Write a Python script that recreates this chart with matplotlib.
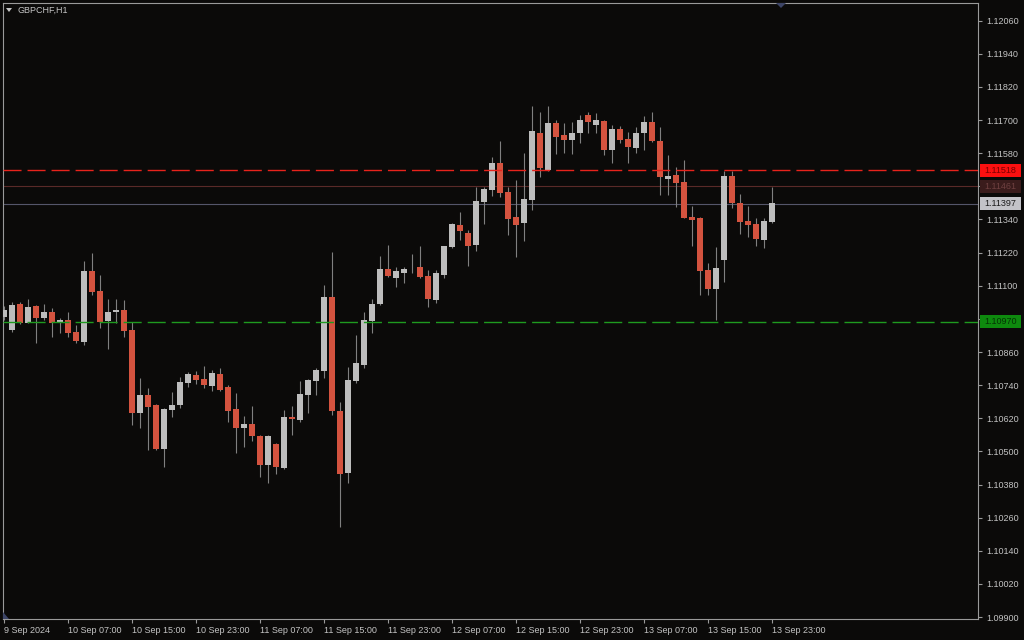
import numpy as np
import matplotlib
matplotlib.use("Agg")
import matplotlib.pyplot as plt
from matplotlib.patches import Rectangle, Polygon

# GBPCHF H1 bars, 9 Sep 23:00 .. 13 Sep 23:00
opens = [1.10987, 1.10940, 1.11034, 1.10966, 1.11027, 1.10984, 1.11005, 1.10964, 1.10976, 1.10933,
         1.10897, 1.11153, 1.11081, 1.10973, 1.11005, 1.11012, 1.10940, 1.10640, 1.10705, 1.10668,
         1.10509, 1.10650, 1.10668, 1.10749, 1.10777, 1.10762, 1.10737, 1.10781, 1.10735, 1.10654,
         1.10586, 1.10600, 1.10557, 1.10451, 1.10527, 1.10441, 1.10626, 1.10614, 1.10705, 1.10756,
         1.10792, 1.11060, 1.10648, 1.10423, 1.10756, 1.10813, 1.10973, 1.11034, 1.11161, 1.11129,
         1.11147, 1.11163, 1.11169, 1.11135, 1.11049, 1.11139, 1.11241, 1.11320, 1.11292, 1.11248,
         1.11404, 1.11447, 1.11546, 1.11440, 1.11350, 1.11328, 1.11411, 1.11652, 1.11519, 1.11691,
         1.11646, 1.11628, 1.11654, 1.11718, 1.11682, 1.11697, 1.11592, 1.11667, 1.11630, 1.11600,
         1.11652, 1.11693, 1.11624, 1.11488, 1.11501, 1.11476, 1.11350, 1.11344, 1.11157, 1.11088,
         1.11193, 1.11498, 1.11399, 1.11335, 1.11324, 1.11266, 1.11332]
highs = [1.11027, 1.11041, 1.11042, 1.11053, 1.11031, 1.11034, 1.11020, 1.10983, 1.11006, 1.10958,
         1.11191, 1.11218, 1.11139, 1.11051, 1.11052, 1.11049, 1.10970, 1.10766, 1.10730, 1.10672,
         1.10658, 1.10716, 1.10770, 1.10789, 1.10792, 1.10809, 1.10795, 1.10802, 1.10741, 1.10712,
         1.10629, 1.10665, 1.10561, 1.10558, 1.10531, 1.10650, 1.10665, 1.10756, 1.10762, 1.10801,
         1.11103, 1.11222, 1.10680, 1.10807, 1.10922, 1.11006, 1.11052, 1.11208, 1.11248, 1.11169,
         1.11169, 1.11215, 1.11244, 1.11157, 1.11157, 1.11244, 1.11326, 1.11368, 1.11302, 1.11459,
         1.11458, 1.11567, 1.11625, 1.11458, 1.11483, 1.11582, 1.11751, 1.11731, 1.11751, 1.11700,
         1.11691, 1.11694, 1.11718, 1.11730, 1.11727, 1.11700, 1.11682, 1.11679, 1.11658, 1.11674,
         1.11715, 1.11730, 1.11676, 1.11574, 1.11531, 1.11555, 1.11389, 1.11350, 1.11181, 1.11241,
         1.11517, 1.11517, 1.11432, 1.11389, 1.11344, 1.11344, 1.11459]
lows = [1.10976, 1.10933, 1.10962, 1.10965, 1.10892, 1.10976, 1.10915, 1.10929, 1.10915, 1.10892,
        1.10885, 1.11067, 1.10946, 1.10870, 1.10965, 1.10915, 1.10596, 1.10585, 1.10506, 1.10506,
        1.10444, 1.10625, 1.10657, 1.10733, 1.10744, 1.10730, 1.10720, 1.10720, 1.10608, 1.10496,
        1.10516, 1.10536, 1.10408, 1.10385, 1.10418, 1.10438, 1.10560, 1.10608, 1.10640, 1.10705,
        1.10765, 1.10632, 1.10227, 1.10385, 1.10747, 1.10801, 1.10929, 1.11031, 1.11132, 1.11096,
        1.11109, 1.11145, 1.11127, 1.11022, 1.11037, 1.11127, 1.11238, 1.11266, 1.11172, 1.11227,
        1.11324, 1.11425, 1.11423, 1.11284, 1.11203, 1.11263, 1.11374, 1.11494, 1.11517, 1.11577,
        1.11582, 1.11577, 1.11618, 1.11652, 1.11652, 1.11574, 1.11544, 1.11616, 1.11546, 1.11580,
        1.11592, 1.11622, 1.11429, 1.11429, 1.11386, 1.11344, 1.11244, 1.11067, 1.11067, 1.10976,
        1.11115, 1.11381, 1.11287, 1.11278, 1.11244, 1.11236, 1.11326]
closes = [1.11012, 1.11031, 1.10966, 1.11024, 1.10984, 1.11005, 1.10964, 1.10976, 1.10930, 1.10901,
          1.11153, 1.11078, 1.10970, 1.11005, 1.11012, 1.10937, 1.10640, 1.10705, 1.10662, 1.10509,
          1.10654, 1.10668, 1.10752, 1.10781, 1.10759, 1.10741, 1.10783, 1.10723, 1.10648, 1.10586,
          1.10600, 1.10554, 1.10451, 1.10554, 1.10445, 1.10626, 1.10617, 1.10708, 1.10759, 1.10795,
          1.11060, 1.10648, 1.10418, 1.10759, 1.10821, 1.10976, 1.11034, 1.11161, 1.11135, 1.11153,
          1.11161, 1.11164, 1.11133, 1.11052, 1.11148, 1.11244, 1.11324, 1.11299, 1.11244, 1.11408,
          1.11450, 1.11546, 1.11437, 1.11343, 1.11320, 1.11415, 1.11661, 1.11525, 1.11691, 1.11640,
          1.11628, 1.11654, 1.11700, 1.11693, 1.11700, 1.11592, 1.11667, 1.11628, 1.11604, 1.11652,
          1.11693, 1.11624, 1.11495, 1.11498, 1.11473, 1.11347, 1.11338, 1.11153, 1.11088, 1.11163,
          1.11498, 1.11399, 1.11332, 1.11320, 1.11269, 1.11335, 1.11399]

time_labels = ["9 Sep 2024", "10 Sep 07:00", "10 Sep 15:00", "10 Sep 23:00", "11 Sep 07:00",
               "11 Sep 15:00", "11 Sep 23:00", "12 Sep 07:00", "12 Sep 15:00", "12 Sep 23:00",
               "13 Sep 07:00", "13 Sep 15:00", "13 Sep 23:00"]
price_ticks = [1.09900 + 0.0012 * i for i in range(19)]

# horizontal levels
level_high = 1.11518   # red dashed
level_low = 1.10970    # green dashed
ask_price = 1.11461
bid_price = 1.11397

BG = '#0b0a09'
FG = '#c4c4c4'
BULL = '#bdbdbd'
BEAR = '#d4533f'
WICK = '#808080'

W, H = 1024, 640
fig = plt.figure(figsize=(W / 100, H / 100), dpi=100, facecolor=BG)
ax_l, ax_r, ax_t, ax_b = 3, 978, 3, 619
ax = fig.add_axes([ax_l / W, 1 - ax_b / H, (ax_r - ax_l) / W, (ax_b - ax_t) / H])
ax.set_facecolor(BG)

n = len(opens)
x = np.arange(n)
o = np.array(opens); c = np.array(closes)
hi = np.array(highs); lo = np.array(lows)
up = c >= o

ax.vlines(x, lo, hi, color=WICK, linewidth=0.8, zorder=2)
body_h = np.maximum(np.abs(c - o), 0.00003)
ax.bar(x[up], body_h[up], bottom=np.minimum(o, c)[up], width=0.8, color=BULL, linewidth=0, zorder=3)
ax.bar(x[~up], body_h[~up], bottom=np.minimum(o, c)[~up], width=0.8, color=BEAR, linewidth=0, zorder=3)

ax.axhline(level_high, color='#e8231c', linewidth=1.0, dashes=(13, 4.3), zorder=4)
ax.axhline(level_low, color='#1f9a1f', linewidth=1.0, dashes=(13, 4.3), zorder=4)
ax.axhline(ask_price, color='#5a2a28', linewidth=0.8, zorder=1)
ax.axhline(bid_price, color='#55566a', linewidth=0.8, zorder=1)

ax.set_xlim((ax_l - 3.7) / 8, (ax_r - 3.7) / 8)
ax.set_ylim(1.12135 - 0.00003622 * ax_b, 1.12135 - 0.00003622 * ax_t)

for s in ax.spines.values():
    s.set_color('#9a9a9a')
    s.set_linewidth(0.8)

# labels that sit under a price box are not shown on the terminal scale
covered = [ask_price, level_low]
ylabels = []
for p in price_ticks:
    hidden = any(abs(p - q) < 0.00015 for q in covered)
    ylabels.append('' if hidden else '%.5f' % p)

ax.yaxis.tick_right()
ax.set_yticks(price_ticks)
ax.set_yticklabels(ylabels)
ax.set_xticks(np.arange(0, n, 8))
ax.set_xticklabels(time_labels, ha='left')
ax.tick_params(axis='both', colors='#9a9a9a', labelcolor=FG, length=3, width=0.8,
               labelsize=6.5, direction='out')
ax.tick_params(axis='y', pad=3)
ax.tick_params(axis='x', pad=2)
for lab in ax.get_xticklabels() + ax.get_yticklabels():
    lab.set_fontfamily('Liberation Sans')

# price boxes on the right scale
def price_box(price, face, txt):
    yp = (1.12135 - price) / 0.00003622
    fig.patches.append(Rectangle((980 / W, 1 - (yp + 6.5) / H), 41 / W, 13 / H,
                                 transform=fig.transFigure, facecolor=face, edgecolor='none', zorder=5))
    fig.text(1000.5 / W, 1 - yp / H, '%.5f' % price, color=txt, fontsize=6.5,
             family='Liberation Sans', ha='center', va='center', zorder=6)

price_box(level_high, '#fb1010', '#7a0000')
price_box(ask_price, '#3a1c1c', '#6e4040')
price_box(bid_price, '#c3c3c8', '#1a1a1a')
price_box(level_low, '#0e8a0e', '#053305')

# title and small markers
fig.text(18 / W, 1 - 10 / H, 'GBPCHF,H1', color=FG, fontsize=6.5, family='Liberation Sans',
         ha='left', va='center')
fig.patches.append(Polygon([[6 / W, 1 - 8 / H], [12 / W, 1 - 8 / H], [9 / W, 1 - 12 / H]],
                           closed=True, transform=fig.transFigure, facecolor=FG, edgecolor='none'))
fig.patches.append(Polygon([[776 / W, 1 - 3 / H], [786 / W, 1 - 3 / H], [781 / W, 1 - 8 / H]],
                           closed=True, transform=fig.transFigure, facecolor='#3c4466', edgecolor='none'))
fig.patches.append(Polygon([[3 / W, 1 - 612 / H], [3 / W, 1 - 619 / H], [9 / W, 1 - 619 / H]],
                           closed=True, transform=fig.transFigure, facecolor='#3c4466', edgecolor='none'))

fig.savefig('out.png', dpi=100, facecolor=BG)
